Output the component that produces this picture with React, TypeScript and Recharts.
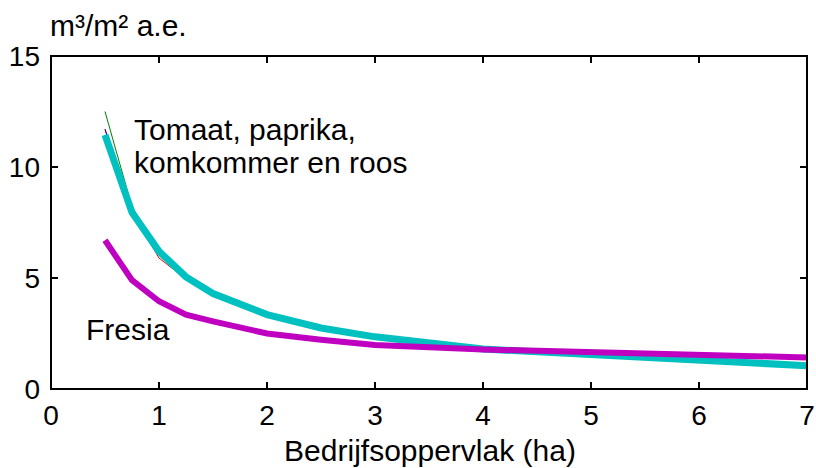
import { Line, LineChart, XAxis, YAxis } from "recharts";

const areas = [0.5, 0.75, 1, 1.25, 1.5, 2, 2.5, 3, 4, 7];
const greenValues = [12.5, 8.2, 6.25, 5.05, 4.3, 3.35, 2.75, 2.35, 1.8, 1.05];
const redValues = [11.7, 7.95, 5.9, 4.95, 4.2, 3.3, 2.75, 2.35, 1.8, 1.05];
const blueValues = [11.7, 7.95, 6.15, 5.05, 4.3, 3.35, 2.75, 2.35, 1.8, 1.05];
const tomaatValues = [11.45, 7.95, 6.2, 5.05, 4.3, 3.35, 2.75, 2.35, 1.8, 1.05];
const fresiaValues = [6.7, 4.9, 3.95, 3.35, 3.05, 2.5, 2.22, 1.98, 1.78, 1.42];

const xTicks = [0, 1, 2, 3, 4, 5, 6, 7];
const yTicks = [0, 5, 10, 15];

const data = areas.map((x, i) => ({
  x,
  green: greenValues[i],
  red: redValues[i],
  blue: blueValues[i],
  tomaat: tomaatValues[i],
  fresia: fresiaValues[i],
}));

const font = "Liberation Sans, Arial, sans-serif";
const W = 816;
const H = 468;
// plot box, also used for the chart margins
const left = 51;
const top = 56;
const right = 807;
const bottom = 389;
const TICK = 7;

const tickStyle = { fontSize: 28, fill: "#000", fontFamily: font };

const px = (v: number) => left + (v / 7) * (right - left);
const py = (v: number) => bottom - (v / 15) * (bottom - top);

export default function App() {
  return (
    <div style={{ position: "absolute", left: 0, top: 0, width: W, height: H, background: "#fff" }}>
      <LineChart
        width={W}
        height={H}
        data={data}
        margin={{ top, right: W - right, bottom: 0, left: 0 }}
      >
        <XAxis
          type="number"
          dataKey="x"
          domain={[0, 7]}
          ticks={xTicks}
          interval={0}
          height={H - bottom}
          tickLine={false}
          tickSize={6}
          tickMargin={10}
          tick={tickStyle}
          axisLine={{ stroke: "#000", strokeWidth: 2 }}
        />
        <YAxis
          type="number"
          domain={[0, 15]}
          ticks={yTicks}
          interval={0}
          width={left}
          tickLine={false}
          tickSize={6}
          tickMargin={5}
          tick={tickStyle}
          axisLine={{ stroke: "#000", strokeWidth: 2 }}
        />
        <Line dataKey="green" stroke="#008000" strokeWidth={1} dot={false} isAnimationActive={false} />
        <Line dataKey="red" stroke="#ff0000" strokeWidth={1} dot={false} isAnimationActive={false} />
        <Line dataKey="blue" stroke="#0000ff" strokeWidth={1} dot={false} isAnimationActive={false} />
        <Line dataKey="tomaat" stroke="#00c0c0" strokeWidth={7} dot={false} isAnimationActive={false} />
        <Line dataKey="fresia" stroke="#c000c0" strokeWidth={6} dot={false} isAnimationActive={false} />
      </LineChart>
      <svg
        width={W}
        height={H}
        style={{ position: "absolute", left: 0, top: 0, pointerEvents: "none" }}
      >
        {/* frame drawn as filled bars */}
        <rect x={left - 1} y={top - 1} width={right - left + 2} height={2} fill="#000" />
        <rect x={right - 1} y={top - 1} width={2} height={bottom - top + 2} fill="#000" />
        <rect x={left - 1} y={bottom - 1} width={right - left + 2} height={2} fill="#000" />
        <rect x={left - 1} y={top - 1} width={2} height={bottom - top + 2} fill="#000" />
        {xTicks.map((t) => (
          <g key={`x${t}`} fill="#000">
            <rect x={px(t) - 1} y={bottom - TICK} width={2} height={TICK} />
            <rect x={px(t) - 1} y={top} width={2} height={TICK} />
          </g>
        ))}
        {yTicks.map((t) => (
          <g key={`y${t}`} fill="#000">
            <rect x={left} y={py(t) - 1} width={TICK} height={2} />
            <rect x={right - TICK} y={py(t) - 1} width={TICK} height={2} />
          </g>
        ))}
        <g fontFamily={font} fontSize={30} fill="#000">
          <text x={50} y={36}>m³/m² a.e.</text>
          <text x={134} y={140}>Tomaat, paprika,</text>
          <text x={134} y={173}>komkommer en roos</text>
          <text x={86} y={340}>Fresia</text>
          <text x={430} y={461} textAnchor="middle">Bedrijfsoppervlak (ha)</text>
        </g>
      </svg>
    </div>
  );
}
